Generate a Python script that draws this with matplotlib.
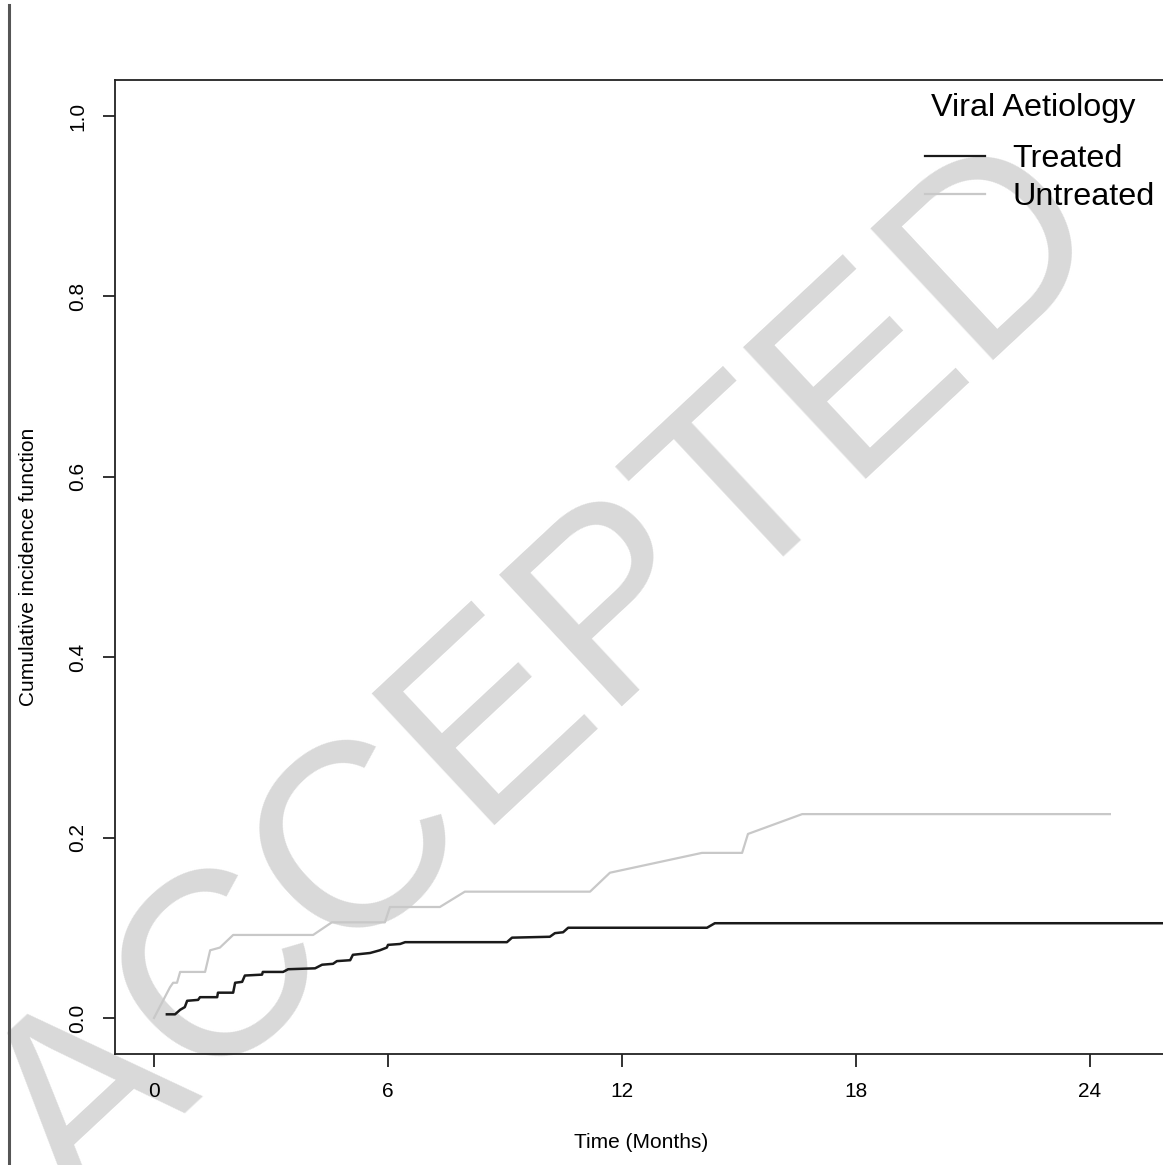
import matplotlib
matplotlib.use("Agg")
import matplotlib.pyplot as plt
from matplotlib.lines import Line2D

plt.rcParams['font.family'] = ['Liberation Sans', 'DejaVu Sans']

# ---- data (months, cumulative incidence) ----
treated_t = [0.33, 0.54, 0.67, 0.79, 0.85, 1.13, 1.18, 1.62, 1.64, 2.03, 2.08, 2.26,
             2.33, 2.77, 2.79, 3.31, 3.44, 4.13, 4.31, 4.59, 4.69, 5.03, 5.10, 5.54,
             5.79, 5.97, 6.00, 6.31, 6.44, 9.05, 9.18, 10.15, 10.28, 10.49, 10.62,
             14.18, 14.38, 26.5]
treated_cif = [0.004, 0.004, 0.009, 0.012, 0.019, 0.020, 0.023, 0.023, 0.028, 0.028,
               0.039, 0.040, 0.047, 0.048, 0.051, 0.051, 0.054, 0.055, 0.059, 0.060,
               0.063, 0.064, 0.070, 0.072, 0.075, 0.078, 0.081, 0.082, 0.084, 0.084,
               0.089, 0.090, 0.094, 0.095, 0.100, 0.100, 0.105, 0.105]

untreated_t = [0.0, 0.41, 0.49, 0.59, 0.67, 1.31, 1.44, 1.69, 2.03, 4.08, 4.56, 5.92,
               6.05, 7.33, 7.97, 11.18, 11.69, 14.05, 15.08, 15.23, 16.62, 24.51]
untreated_cif = [0.0, 0.034, 0.039, 0.039, 0.051, 0.051, 0.075, 0.078, 0.092, 0.092,
                 0.106, 0.106, 0.123, 0.123, 0.140, 0.140, 0.161, 0.183, 0.183, 0.204,
                 0.226, 0.226]

x_ticks = [0, 6, 12, 18, 24]
y_ticks = [0.0, 0.2, 0.4, 0.6, 0.8, 1.0]
y_tick_labels = ["0.0", "0.2", "0.4", "0.6", "0.8", "1.0"]
series_labels = ["Treated", "Untreated"]
legend_title = "Viral Aetiology"

W, H = 1163, 1165
fig = plt.figure(figsize=(W / 100, H / 100), dpi=100)

left_px, right_px, top_px, bot_px = 115, 1187.5, 80, 1054
aw, ah = right_px - left_px, bot_px - top_px
ax = fig.add_axes([left_px / W, (H - bot_px) / H, aw / W, ah / H])

# watermark
ax.text(550 / W, 1 - 680 / H, "ACCEPTED", transform=fig.transFigure,
        fontsize=188, color="#d9d9d9", rotation=43, ha="center", va="center",
        rotation_mode="anchor", clip_on=False, zorder=1)

l1, = ax.plot(treated_t, treated_cif, color="#1a1a1a", lw=1.8, zorder=3)
l2, = ax.plot(untreated_t, untreated_cif, color="#c8c8c8", lw=1.6, zorder=3)

ax.set_xlim(-1, 26.5)
ax.set_ylim(-0.04, 1.04)
ax.set_xticks(x_ticks)
ax.set_xticklabels([str(v) for v in x_ticks])
ax.set_yticks(y_ticks)
ax.set_yticklabels(y_tick_labels, rotation=90, va="center")

for s in ["left", "top", "bottom"]:
    ax.spines[s].set_linewidth(1.3)
    ax.spines[s].set_color("#222222")
ax.spines["right"].set_visible(False)
ax.tick_params(axis="both", length=9, width=1.3, color="#222222",
               labelsize=15, pad=11)

ax.set_xlabel("Time (Months)", fontsize=15)
ax.xaxis.set_label_coords((641 - left_px) / aw, -(1133 - bot_px) / ah)
ax.set_ylabel("Cumulative incidence function", fontsize=15)
ax.yaxis.set_label_coords(-(left_px - 38) / aw, 0.5)

# legend title and entries
fs_leg = 23.3
ax.text(1033 / W, 1 - 108 / H, legend_title, transform=fig.transFigure,
        fontsize=fs_leg, ha="center", va="center", zorder=4)
leg = ax.legend([l1, l2], series_labels, loc="upper left",
                bbox_to_anchor=(925 / W, 1 - 144 / H), bbox_transform=fig.transFigure,
                frameon=False, fontsize=fs_leg, handlelength=1.85,
                handletextpad=0.86, labelspacing=0.26, borderpad=0, borderaxespad=0)
for h in leg.legend_handles:
    h.set_linewidth(1.6)

# left border line
fig.add_artist(Line2D([8.5 / W, 8.5 / W], [0, 1 - 5 / H], transform=fig.transFigure,
                      color="#555555", lw=2.2))

fig.savefig("out.png", dpi=100)
